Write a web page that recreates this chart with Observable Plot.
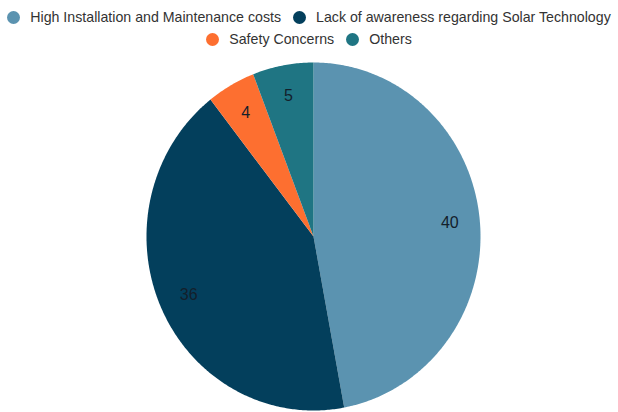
<!DOCTYPE html>
<html>
<head>
<meta charset="utf-8">
<script src="https://cdn.jsdelivr.net/npm/d3@7"></script>
<script src="https://cdn.jsdelivr.net/npm/@observablehq/plot@0.6"></script>
<style>
  body { margin: 0; background: #fff; font-family: "Liberation Sans", Arial, sans-serif; }
  #legend { width: 618px; height: 50px; box-sizing: border-box; padding-top: 6px; display: flex; flex-wrap: wrap; justify-content: center; font-size: 14.2px; color: #333; line-height: 22px; }
  .item { display: flex; align-items: center; margin: 0 6px; white-space: nowrap; }
  .dot { width: 13px; height: 13px; border-radius: 50%; margin-right: 10px; }
  svg { display: block; }
</style>
</head>
<body>
<div id="legend"></div>
<div id="chart"></div>
<script>
const categories = ["High Installation and Maintenance costs", "Lack of awareness regarding Solar Technology", "Safety Concerns", "Others"];
const values = [40, 36, 4, 5];
const colors = ["#5b93b0", "#033f5c", "#fd6f30", "#1f7583"];

const legend = document.getElementById("legend");
categories.forEach((c, i) => {
  const it = document.createElement("div");
  it.className = "item";
  it.innerHTML = `<span class="dot" style="background:${colors[i]}"></span><span>${c}</span>`;
  legend.appendChild(it);
});

const data = categories.map((c, i) => ({category: c, value: values[i]}));
const arcs = d3.pie().sort(null).value(d => d.value)(data);

const poly = [];
const labels = [];
arcs.forEach(a => {
  const cat = a.data.category;
  poly.push({category: cat, x: 0, y: 0});
  const n = Math.max(4, Math.ceil((a.endAngle - a.startAngle) / 0.01));
  for (let k = 0; k <= n; k++) {
    const t = a.startAngle + (a.endAngle - a.startAngle) * k / n;
    poly.push({category: cat, x: Math.sin(t), y: Math.cos(t)});
  }
  poly.push({category: cat, x: 0, y: 0});
  const m = (a.startAngle + a.endAngle) / 2;
  labels.push({category: cat, value: a.data.value, x: 0.82 * Math.sin(m), y: 0.82 * Math.cos(m)});
});

const chart = Plot.plot({
  width: 618,
  height: 362,
  marginLeft: 146,
  marginRight: 138,
  marginTop: 12,
  marginBottom: 2,
  x: {domain: [-1, 1], axis: null},
  y: {domain: [-1, 1], axis: null},
  color: {domain: categories, range: colors},
  marks: [
    Plot.line(poly, {x: "x", y: "y", z: "category", fill: "category", stroke: "none", curve: "linear"}),
    Plot.text(labels, {x: "x", y: "y", text: d => String(d.value), fill: "#13202b", fontSize: 16, fontFamily: "Liberation Sans, Arial, sans-serif"})
  ]
});
document.getElementById("chart").appendChild(chart);
</script>
</body>
</html>
